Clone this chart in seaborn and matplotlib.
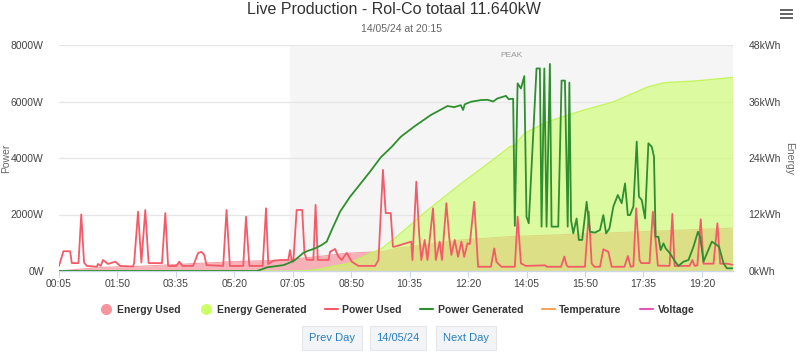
import matplotlib
matplotlib.use("Agg")
import matplotlib.pyplot as plt
from matplotlib.lines import Line2D
from matplotlib.patches import Rectangle
import pandas as pd
import seaborn as sns

# Chart text
TITLE = "Live Production - Rol-Co totaal 11.640kW"
SUBTITLE = "14/05/24 at 20:15"
DAY = "14/05/24"
PEAK_START = "07:00"
DAY_END = "20:15"

X_TICKS = ["00:05", "01:50", "03:35", "05:20", "07:05", "08:50",
           "10:35", "12:20", "14:05", "15:50", "17:35", "19:20"]
POWER_TICKS = [0, 2000, 4000, 6000, 8000]
ENERGY_TICKS = [0, 12, 24, 36, 48]

# Power used (W)
USED_T = ["00:05", "00:13", "00:25", "00:28", "00:40", "00:45", "00:50", "00:55",
          "01:13", "01:15", "01:20", "01:24", "01:33", "01:46", "01:55", "02:18",
          "02:20", "02:27", "02:33", "02:40", "02:46", "03:10", "03:16", "03:21",
          "03:36", "03:41", "03:47", "04:06", "04:15", "04:21", "04:26", "04:30",
          "05:00", "05:06", "05:12", "05:36", "05:41", "05:47", "06:11", "06:17",
          "06:21", "06:30", "06:45", "06:57", "07:00", "07:03", "07:06", "07:12",
          "07:22", "07:26", "07:30", "07:42", "07:46", "07:50", "08:09", "08:12",
          "08:21", "08:27", "08:33", "08:42", "08:51", "09:03", "09:33", "09:39",
          "09:47", "09:52", "10:01", "10:05", "10:08", "10:38", "10:40", "10:47",
          "10:52", "10:56", "11:02", "11:07", "11:17", "11:22", "11:29", "11:33",
          "11:41", "11:46", "11:50", "11:56", "12:02", "12:08", "12:13", "12:19",
          "12:23", "12:31", "12:38", "13:01", "13:07", "13:11", "13:20", "13:44",
          "13:49", "13:55", "14:04", "14:38", "14:42", "15:07", "15:13", "15:17",
          "15:20", "15:50", "15:57", "16:02", "16:07", "16:17", "16:23", "16:32",
          "16:38", "17:01", "17:07", "17:12", "17:17", "17:22", "17:28", "17:31",
          "17:46", "17:52", "17:58", "18:01", "18:22", "18:27", "18:31", "18:58",
          "19:03", "19:07", "19:12", "19:18", "19:23", "19:41", "19:48", "19:53",
          "20:05", "20:15"]
USED_W = [180, 700, 700, 280, 280, 2000, 300, 180,
          150, 250, 180, 390, 250, 330, 180, 160,
          280, 2100, 300, 2160, 280, 280, 2050, 180,
          180, 330, 180, 180, 640, 680, 570, 210,
          180, 2160, 180, 180, 1920, 180, 180, 2220,
          250, 365, 390, 390, 740, 390, 320, 2160,
          2160, 640, 400, 390, 2340, 390, 390, 680,
          780, 510, 390, 640, 330, 180, 180, 390,
          3580, 2050, 2050, 860, 860, 1040, 390, 3160,
          1340, 390, 1100, 390, 2220, 390, 1040, 390,
          2400, 1210, 570, 1100, 500, 1040, 500, 980,
          950, 2450, 150, 150, 800, 320, 150, 150,
          1920, 270, 180, 200, 150, 150, 510, 200,
          150, 150, 2100, 270, 150, 150, 770, 680,
          150, 150, 530, 150, 170, 2220, 390, 280,
          280, 2100, 860, 190, 180, 2020, 180, 180,
          390, 180, 200, 1830, 260, 260, 1690, 260,
          260, 220]

# Power generated (W)
GEN_T = ["00:05", "06:01", "06:19", "06:49", "07:01", "07:09", "07:24", "07:33",
         "07:45", "07:57", "08:06", "08:15", "08:30", "08:48", "09:01", "09:24",
         "09:43", "10:03", "10:19", "10:43", "11:13", "11:43", "11:55", "12:07",
         "12:11", "12:14", "12:25", "12:43", "12:55", "13:05", "13:13", "13:20",
         "13:28", "13:33", "13:41", "13:44", "13:49", "13:55", "14:01", "14:05",
         "14:09", "14:23", "14:29", "14:32", "14:37", "14:41", "14:47", "14:50",
         "15:02", "15:08", "15:14", "15:19", "15:22", "15:25", "15:29", "15:35",
         "15:39", "15:45", "15:53", "15:59", "16:08", "16:17", "16:23", "16:28",
         "16:34", "16:41", "16:49", "16:56", "17:02", "17:07", "17:11", "17:17",
         "17:23", "17:27", "17:32", "17:38", "17:44", "17:50", "17:54", "17:57",
         "18:02", "18:06", "18:11", "18:15", "18:23", "18:32", "18:38", "18:47",
         "18:56", "19:05", "19:13", "19:17", "19:23", "19:29", "19:38", "19:47",
         "19:51", "19:59", "20:05", "20:15"]
GEN_W = [0, 0, 130, 210, 310, 390, 640, 720,
         800, 920, 1040, 1450, 2100, 2630, 2950, 3520,
         4020, 4400, 4750, 5110, 5520, 5840, 5800, 5870,
         5700, 5900, 5990, 6050, 6060, 6000, 6110, 6150,
         6200, 6080, 6100, 1600, 6640, 6460, 6900, 1920,
         1690, 7170, 7170, 1570, 7170, 1570, 7330, 1570,
         1570, 6740, 6740, 1570, 6670, 1800, 1330, 1860,
         1100, 1100, 2450, 1390, 1360, 1450, 1980, 1330,
         1510, 2280, 2690, 2400, 3100, 1980, 1980, 2280,
         4580, 2630, 2510, 1860, 4520, 4400, 4050, 1210,
         1210, 740, 980, 800, 620, 330, 180, 330,
         390, 860, 1390, 1200, 330, 620, 1040, 920,
         850, 270, 95, 95]

# Cumulative energy (kWh)
E_USED_T = ["00:05", "00:43", "01:28", "02:31", "03:21", "05:21", "06:48", "07:45",
            "08:45", "09:45", "10:12", "10:37", "12:08", "13:35", "16:59", "20:15"]
E_USED_KWH = [0.0, 0.4, 0.8, 1.0, 1.3, 2.0, 2.3, 3.0,
              3.8, 4.1, 4.8, 5.2, 6.6, 7.3, 8.2, 9.1]
E_GEN_T = ["00:05", "07:00", "07:19", "07:45", "08:13", "08:45", "09:45", "10:12",
           "11:08", "12:08", "13:08", "13:35", "13:43", "14:01", "14:43", "15:43",
           "16:43", "17:43", "18:13", "19:13", "20:15"]
E_GEN_KWH = [0.0, 0.0, 0.05, 0.2, 0.9, 1.6, 4.8, 7.3,
             13.0, 18.6, 23.9, 26.4, 26.6, 29.2, 31.7, 34.0,
             36.0, 39.1, 40.0, 40.4, 41.1]


def to_min(s):
    h, m = s.split(":")
    return int(h) * 60 + int(m)


used = pd.DataFrame({"t": [to_min(s) for s in USED_T], "w": USED_W})
gen = pd.DataFrame({"t": [to_min(s) for s in GEN_T], "w": GEN_W})
e_used = pd.DataFrame({"t": [to_min(s) for s in E_USED_T], "kwh": E_USED_KWH})
e_gen = pd.DataFrame({"t": [to_min(s) for s in E_GEN_T], "kwh": E_GEN_KWH})

sns.set_theme(style="white")
plt.rcParams["font.family"] = ["Liberation Sans", "DejaVu Sans"]

fig = plt.figure(figsize=(8, 3.57), dpi=100)
ax = fig.add_axes([59 / 800, 1 - 271 / 357, 674 / 800, 226 / 357])  # energy (drawn first)
axp = ax.twinx()  # power lines on top

x0, x1 = to_min(X_TICKS[0]), to_min(DAY_END) + 1

# peak band + grid
ax.axvspan(to_min(PEAK_START), x1, color="#f5f5f5", zorder=0, lw=0)
for v in ENERGY_TICKS[1:]:
    ax.axhline(v, color="#e6e6e6", lw=0.9, zorder=0.5)

# energy areas
ax.fill_between(e_used["t"], 0, e_used["kwh"], color="#f59aa3", alpha=0.75, lw=0, zorder=1)
ax.plot(e_used["t"], e_used["kwh"], color="#f4a0a8", lw=0.8, zorder=1.1)
ax.fill_between(e_gen["t"], 0, e_gen["kwh"], color="#ccff66", alpha=0.6, lw=0, zorder=2)
ax.plot(e_gen["t"], e_gen["kwh"], color="#c4f55c", lw=1.0, zorder=2.1)

# power lines
sns.lineplot(data=used, x="t", y="w", color="#f45b69", lw=1.3, ax=axp,
             estimator=None, sort=False)
sns.lineplot(data=gen, x="t", y="w", color="#2f8f2f", lw=1.3, ax=axp,
             estimator=None, sort=False)

ax.set_xlim(x0, x1)
ax.set_ylim(0, ENERGY_TICKS[-1])
axp.set_ylim(0, POWER_TICKS[-1])

# energy axis on the right, power axis on the left
ax.yaxis.tick_right()
ax.set_yticks(ENERGY_TICKS)
ax.set_yticklabels([f"{v}kWh" for v in ENERGY_TICKS])
axp.yaxis.tick_left()
axp.set_yticks(POWER_TICKS)
axp.set_yticklabels([f"{v}W" for v in POWER_TICKS])
ax.set_xticks([to_min(s) for s in X_TICKS])
ax.set_xticklabels(X_TICKS)

for a in (ax, axp):
    a.set_xlabel("")
    a.set_ylabel("")
    for side in ("top", "left", "right", "bottom"):
        a.spines[side].set_visible(False)
ax.spines["bottom"].set_visible(True)
ax.spines["bottom"].set_color("#ccd6eb")
ax.spines["bottom"].set_linewidth(1)

ax.tick_params(axis="x", colors="#444444", labelsize=7.5, length=4, width=0.8,
               pad=2, color="#ccd6eb", direction="out", bottom=True)
ax.tick_params(axis="y", colors="#444444", labelsize=7.5, length=0, pad=11)
axp.tick_params(axis="y", colors="#444444", labelsize=7.5, length=0, pad=11)
ax.grid(False)
axp.grid(False)

# titles and axis titles
fig.text(394 / 800, 1 - 10 / 357, TITLE, ha="center", va="center", fontsize=11.5, color="#333333")
fig.text(402 / 800, 1 - 29 / 357, SUBTITLE, ha="center", va="center", fontsize=7.5, color="#666666")
fig.text(0.001, 1 - 158 / 357, "Power", rotation=90, ha="left", va="center", fontsize=7.5, color="#666666")
fig.text(789 / 800, 1 - 158 / 357, "Energy", rotation=270, ha="center", va="center", fontsize=7.5, color="#666666")
ax.text((to_min(PEAK_START) + x1) / 2, 45.8, "PEAK", ha="center", va="center", fontsize=6, color="#999999")

# legend
handles = [
    Line2D([], [], marker="o", ls="", markersize=8, markerfacecolor="#f7959e", markeredgecolor="none"),
    Line2D([], [], marker="o", ls="", markersize=8, markerfacecolor="#ccff66", markeredgecolor="none"),
    Line2D([], [], color="#f45b69", lw=1.5),
    Line2D([], [], color="#2f8f2f", lw=1.5),
    Line2D([], [], color="#f7a35c", lw=1.5),
    Line2D([], [], color="#e055b5", lw=1.5),
]
labels = ["Energy Used", "Energy Generated", "Power Used", "Power Generated", "Temperature", "Voltage"]
fig.legend(handles, labels, loc="center", bbox_to_anchor=(397 / 800, 1 - 310 / 357), ncol=6,
           frameon=False, prop={"weight": "bold", "size": 7.5}, labelcolor="#333333",
           handlelength=1.25, handletextpad=0.45, columnspacing=1.75)

# day navigation buttons
for label, cx in [("Prev Day", 332), (DAY, 398), ("Next Day", 466)]:
    fig.text(cx / 800, 1 - 338 / 357, label, ha="center", va="center", fontsize=8, color="#2a7fc1",
             bbox=dict(boxstyle="square,pad=0.6", facecolor="#f2f4f7", edgecolor="#e4e6ea", lw=0.8))

# menu icon
for yy in (10, 14, 18):
    fig.add_artist(Rectangle((780 / 800, 1 - (yy + 1) / 357), 13 / 800, 2 / 357,
                             transform=fig.transFigure, facecolor="#666666", edgecolor="none"))

fig.savefig("out.png", dpi=100)
